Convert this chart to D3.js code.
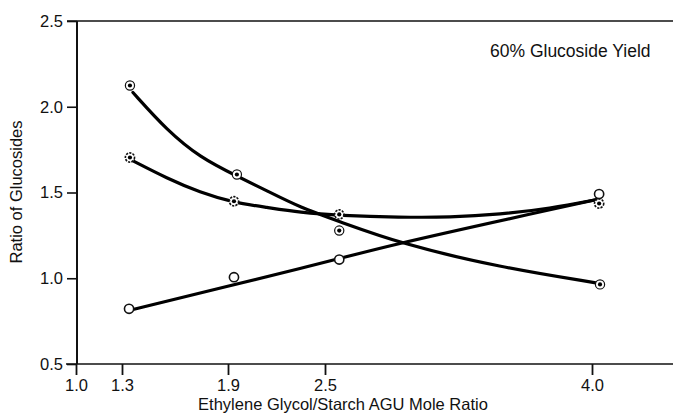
<!DOCTYPE html>
<html><head><meta charset="utf-8">
<script src="https://cdn.jsdelivr.net/npm/d3@7"></script>
<style>
body{margin:0;background:#fff;}
text{font-family:"Liberation Sans",Arial,Helvetica,sans-serif;fill:#111;}
</style></head>
<body><svg id="c" width="673" height="415"></svg>
<script>
// ---- data ----
const xTicks = [1.0, 1.3, 1.9, 2.5, 4.0];
const yTicks = [0.5, 1.0, 1.5, 2.0, 2.5];
const title = "60% Glucoside Yield";
const xLabel = "Ethylene Glycol/Starch AGU Mole Ratio";
const yLabel = "Ratio of Glucosides";

// measured points (x = mole ratio, y = ratio)
const ptsAx = [1.345, 1.955, 2.58, 4.045];
const ptsAy = [2.124, 1.605, 1.278, 0.964];
const ptsBx = [1.345, 1.937, 2.58, 4.04];
const ptsBy = [1.704, 1.449, 1.372, 1.436];
const ptsCx = [1.34, 1.937, 2.58, 4.04];
const ptsCy = [0.822, 1.006, 1.109, 1.491];

// fitted curves
const curveAx = [1.362, 1.555, 1.742, 1.956, 2.141, 2.345, 2.584, 2.921, 3.483, 4.03];
const curveAy = [2.083, 1.862, 1.704, 1.595, 1.510, 1.413, 1.330, 1.203, 1.063, 0.972];
const curveBx = [1.357, 1.555, 1.742, 1.931, 2.141, 2.345, 2.584, 2.921, 3.202, 3.483, 3.764, 4.028];
const curveBy = [1.687, 1.582, 1.500, 1.442, 1.413, 1.383, 1.366, 1.355, 1.355, 1.372, 1.407, 1.459];
const curveCx = [1.362, 2.345, 2.921, 4.028];
const curveCy = [0.818, 1.057, 1.203, 1.459];

// ---- drawing ----
const svg = d3.select("#c");
const x = d3.scaleLinear().domain(xTicks).range([76, 122, 228, 325, 592]);
const y = d3.scaleLinear().domain([0.5, 2.5]).range([364, 21]);

// frame lines
svg.append("line").attr("x1", 66).attr("x2", 673).attr("y1", y(0.5)).attr("y2", y(0.5))
  .attr("stroke", "#111").attr("stroke-width", 1.6);
svg.append("line").attr("x1", 67).attr("x2", 673).attr("y1", y(2.5)).attr("y2", y(2.5))
  .attr("stroke", "#111").attr("stroke-width", 1.6);
svg.append("line").attr("x1", 77).attr("x2", 77).attr("y1", y(2.5)).attr("y2", y(0.5))
  .attr("stroke", "#111").attr("stroke-width", 2);

const yAxis = svg.append("g").attr("transform", "translate(77,0)")
  .call(d3.axisLeft(y).tickValues(yTicks).tickFormat(d3.format(".1f")).tickSize(10).tickPadding(4));
yAxis.select(".domain").remove();
yAxis.selectAll("line").attr("stroke", "#111").attr("stroke-width", 1.6);
yAxis.selectAll("text").attr("font-size", 16.5).attr("fill", "#111");

const xAxis = svg.append("g").attr("transform", `translate(0,${y(0.5)})`)
  .call(d3.axisBottom(x).tickValues(xTicks).tickFormat(d3.format(".1f")).tickSize(11).tickPadding(4));
xAxis.select(".domain").remove();
xAxis.selectAll("line").attr("stroke", "#111").attr("stroke-width", 1.8);
xAxis.selectAll("text").attr("font-size", 16.5).attr("fill", "#111");

// curves
const smooth = d3.line().x(d => x(d[0])).y(d => y(d[1])).curve(d3.curveBasis);
const straight = d3.line().x(d => x(d[0])).y(d => y(d[1])).curve(d3.curveCatmullRom.alpha(0.5));
[[curveAx, curveAy, smooth], [curveBx, curveBy, smooth], [curveCx, curveCy, straight]].forEach(([xs, ys, ln]) => {
  svg.append("path").datum(xs.map((v, i) => [v, ys[i]])).attr("d", ln)
    .attr("fill", "none").attr("stroke", "#000").attr("stroke-width", 3.2)
    .attr("stroke-linecap", "round");
});

// markers
function markers(xs, ys, type) {
  const g = svg.append("g");
  xs.forEach((v, i) => {
    const cx = x(v), cy = y(ys[i]);
    const c = g.append("circle").attr("cx", cx).attr("cy", cy).attr("r", 4.6)
      .attr("fill", "#fff").attr("stroke", "#111").attr("stroke-width", type === "C" ? 1.6 : 1.2);
    if (type === "B") c.attr("stroke-dasharray", "2.2,1.2").attr("stroke-width", 1.6);
    if (type !== "C") g.append("circle").attr("cx", cx).attr("cy", cy).attr("r", 2.1).attr("fill", "#000");
  });
}
markers(ptsAx, ptsAy, "A");
markers(ptsBx, ptsBy, "B");
markers(ptsCx, ptsCy, "C");

// texts
svg.append("text").attr("x", 490).attr("y", 57).attr("font-size", 17.5).text(title);
svg.append("text").attr("x", 343).attr("y", 410).attr("text-anchor", "middle").attr("font-size", 16.5).text(xLabel);
svg.append("text").attr("transform", "translate(22,192) rotate(-90)").attr("text-anchor", "middle")
  .attr("font-size", 16.5).text(yLabel);
</script></body></html>
